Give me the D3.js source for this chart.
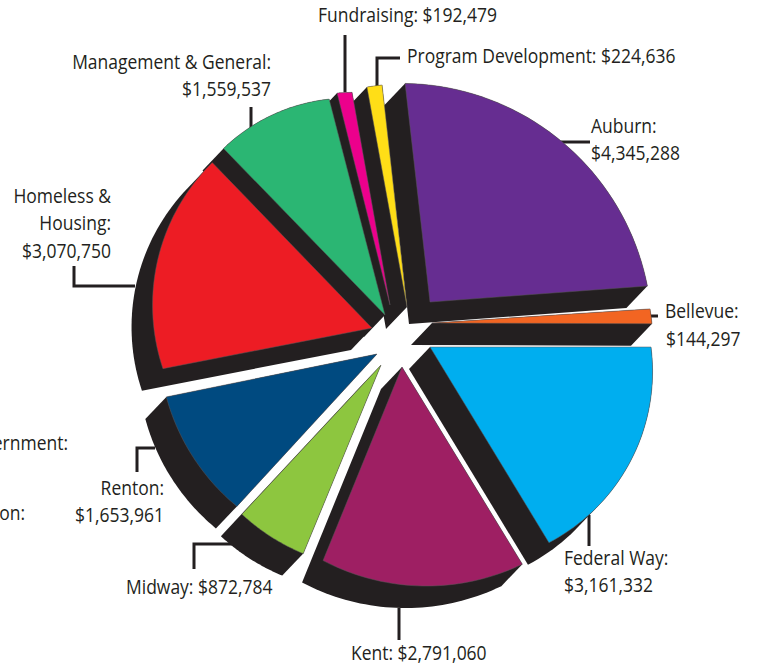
<!DOCTYPE html>
<html>
<head>
<meta charset="utf-8">
<script src="https://cdn.jsdelivr.net/npm/d3@7"></script>
<style>
html,body{margin:0;padding:0;background:#fff;overflow:hidden}
svg{display:block}
text{font-family:"Open Sans",sans-serif;font-size:20.5px;fill:#231f20}
</style>
</head>
<body>
<div id="chart"></div>
<script>
const categories = ["Auburn","Bellevue","Federal Way","Kent","Midway","Renton","Homeless & Housing","Management & General","Fundraising","Program Development"];
const values = [4345288,144297,3161332,2791060,872784,1653961,3070750,1559537,192479,224636];
const colors = ["#662d91","#f26522","#00aeef","#9e1f63","#8dc63f","#004a80","#ed1c24","#2bb673","#ec008c","#ffde17"];

// layout of the exploded, hand-drawn pie
const tips = [[430,302],[432,323],[430,347],[402,367],[381,365],[377,354],[372,328],[385,315],[390,305],[407,307]];
const edgeStart = [220,218.5,221,231,204,207,213,232,218.5,223.6];   // length of each wedge's first straight edge
const edgeEnd = [218,220,229,209,204,215,230,223,216,223.4];         // length of its second straight edge
const rimRadius = [251,400,193,222,204,215,200,180,300,300];         // curvature of its rim
const startNudge = [0,5.97,6.79,2.22,0.24,3.0,6.35,1.89,0.82,0.67];  // degrees away from the pure pie angle
const endNudge = [5.47,6.99,2.32,0.04,3.4,5.85,2,0.32,0.87,0.1];
const drawOrder = [0,9,8,7,6,1,2,3,4,5];
const depth = [-21,22];
const textSqueeze = 0.853, lineStep = 27.4;

const labels = [
 {lines:["Auburn:","$4,345,288"],x:591,y:133,a:"start"},
 {lines:["Bellevue:"],x:665,y:318,a:"start"},
 {lines:["$144,297"],x:666,y:346,a:"start"},
 {lines:["Federal Way:","$3,161,332"],x:564,y:565,a:"start"},
 {lines:["Kent: $2,791,060"],x:351,y:660,a:"start"},
 {lines:["Midway: $872,784"],x:126,y:594,a:"start"},
 {lines:["Renton:","$1,653,961"],x:164,y:495,a:"end"},
 {lines:["Homeless &","Housing:","$3,070,750"],x:111,y:203,a:"end"},
 {lines:["Management & General:","$1,559,537"],x:271,y:69,a:"end"},
 {lines:["Fundraising: $192,479"],x:318,y:22,a:"start"},
 {lines:["Program Development: $224,636"],x:407,y:63,a:"start"},
 {lines:["ernment:"],x:68,y:450,a:"end"},
 {lines:["on:"],x:25,y:520,a:"end"}
];
const leaders = [
 [[561,142],[590,142]],
 [[650,316],[658,316]],
 [[589,515],[589,546]],
 [[399,608],[399,640]],
 [[232,544],[194,544],[194,569]],
 [[155,448],[137,448],[137,472]],
 [[135,286],[74,286],[74,266]],
 [[251,128],[251,107]],
 [[345,92],[345,35]],
 [[377,86],[377,58],[400,58]]
];

const W = 758, H = 668;
const svg = d3.select("#chart").append("svg").attr("width",W).attr("height",H).attr("viewBox",[0,0,W,H]);
const deg = Math.PI/180;
const pie = d3.pie().sort(null).startAngle(-6.5*deg).endAngle(353.5*deg);
const arcs = pie(values);

function rimPoints(p0,p1,R,tip){
  const mx=(p0[0]+p1[0])/2,my=(p0[1]+p1[1])/2;
  const dx=p1[0]-p0[0],dy=p1[1]-p0[1],c=Math.hypot(dx,dy);
  const h=Math.sqrt(Math.max(R*R-c*c/4,0));
  let nx=-dy/c,ny=dx/c;
  if((tip[0]-mx)*nx+(tip[1]-my)*ny<0){nx=-nx;ny=-ny;}
  const cx=mx+nx*h,cy=my+ny*h;
  const a0=Math.atan2(p0[1]-cy,p0[0]-cx);
  let a1=Math.atan2(p1[1]-cy,p1[0]-cx);
  if(a1<a0)a1+=2*Math.PI;
  return d3.range(0,41).map(k=>{const a=a0+(a1-a0)*k/40;return [cx+R*Math.cos(a),cy+R*Math.sin(a)];});
}

const wedges = arcs.map((d,i)=>{
  const a0=d.startAngle+startNudge[i]*deg,a1=d.endAngle+endNudge[i]*deg,t=tips[i];
  const q0=d3.pointRadial(a0,edgeStart[i]),q1=d3.pointRadial(a1,edgeEnd[i]);
  const face=[t].concat(rimPoints([t[0]+q0[0],t[1]+q0[1]],[t[0]+q1[0],t[1]+q1[1]],rimRadius[i],t));
  return {face,color:colors[i],name:categories[i]};
});
const outline=d3.line();

svg.append("g").selectAll("path").data(leaders).join("path")
  .attr("d",d3.line()).attr("fill","none").attr("stroke","#231f20").attr("stroke-width",3);

const g = svg.append("g").selectAll("g").data(drawOrder.map(i=>wedges[i])).join("g");
g.append("path")
  .attr("d",w=>outline(d3.polygonHull(w.face.concat(w.face.map(p=>[p[0]+depth[0],p[1]+depth[1]]))))+"Z")
  .attr("fill","#231f20");
g.append("path")
  .attr("d",w=>outline(w.face)+"Z")
  .attr("fill",w=>w.color)
  .attr("stroke","#5a5658").attr("stroke-width",0.5);

const t = svg.append("g").selectAll("text").data(labels).join("text")
  .attr("text-anchor",d=>d.a)
  .attr("transform",d=>`translate(${d.x},${d.y}) scale(${textSqueeze},1)`);
t.selectAll("tspan").data(d=>d.lines.map((s,i)=>({s,i}))).join("tspan")
  .attr("x",0).attr("dy",d=>d.i?lineStep:0).text(d=>d.s);
</script>
</body>
</html>
